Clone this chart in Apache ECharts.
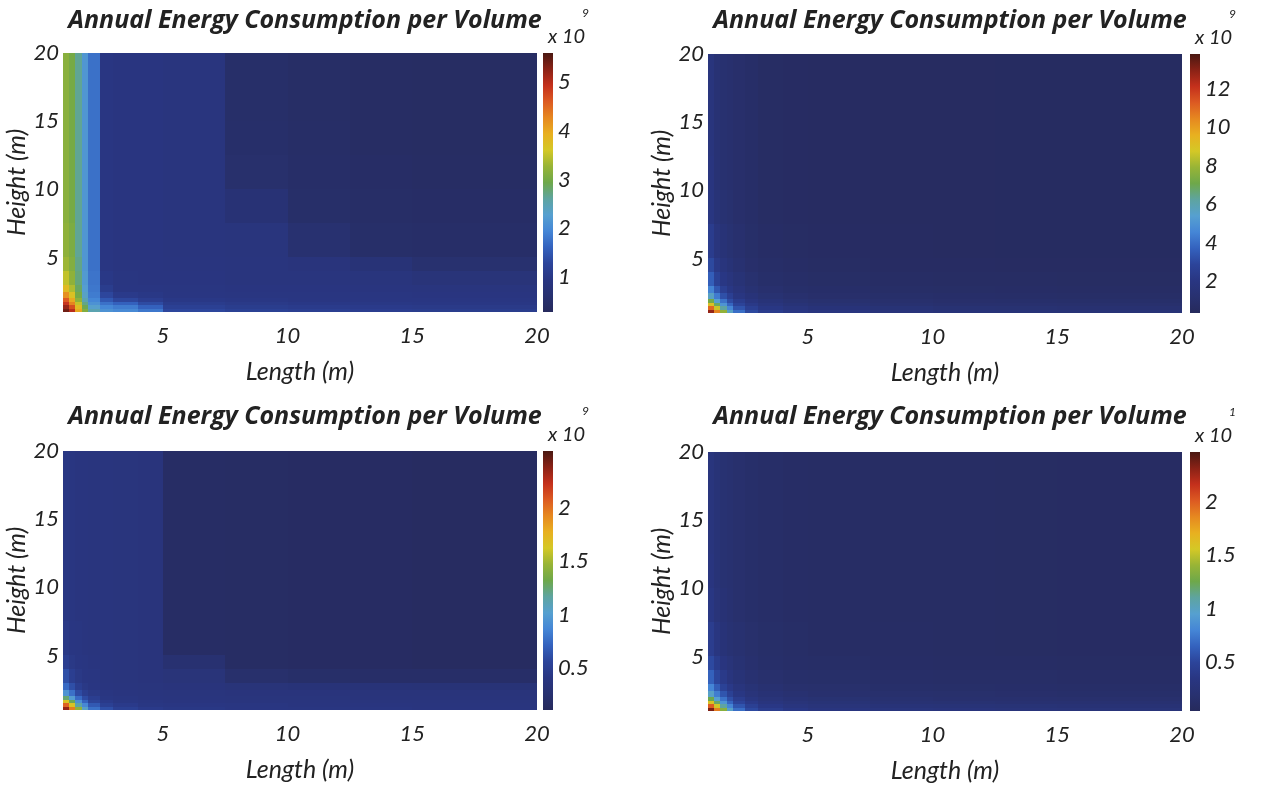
<!DOCTYPE html>
<html><head><meta charset="utf-8">
<script src="https://cdn.jsdelivr.net/npm/echarts@6/dist/echarts.min.js"></script>
<style>html,body{margin:0;padding:0;background:#fff}#c{width:1270px;height:786px}</style>
</head><body><div id="c"></div>
<script>
// ---------- DATA ----------
const titleText = 'Annual Energy Consumption per Volume';
const xName = 'Length (m)';
const yName = 'Height (m)';
const lengthEdges = [1, 1.25, 1.5, 1.75, 2, 2.5, 3, 4, 5, 7.5, 10, 12.5, 15, 20];
const heightEdges = [1, 1.25, 1.5, 1.75, 2, 2.5, 3, 4, 5, 7.5, 10, 12.5, 15, 20];
const xTicks = [5, 10, 15, 20];
const yTicks = [5, 10, 15, 20];

// each inner array = one Length cell column, values from lowest Height cell upward (x 10^exp)
const energyP1 = [
  [5.4, 5.2, 4.9, 4.6, 4.2, 3.8, 3.5, 3.3, 3.2, 3.15, 3.15, 3.15, 3.15],
  [5.0, 4.7, 4.3, 4.0, 3.7, 3.4, 3.2, 3.1, 3.05, 3.0, 3.0, 3.0, 3.0],
  [4.0, 3.8, 3.5, 3.2, 3.0, 2.85, 2.75, 2.7, 2.65, 2.65, 2.65, 2.65, 2.65],
  [3.1, 2.9, 2.7, 2.5, 2.35, 2.25, 2.2, 2.15, 2.15, 2.15, 2.15, 2.15, 2.15],
  [2.5, 2.3, 2.1, 1.95, 1.85, 1.8, 1.78, 1.75, 1.75, 1.75, 1.75, 1.75, 1.75],
  [2.1, 1.95, 1.75, 1.5, 1.3, 1.1, 1.0, 0.95, 0.95, 0.95, 0.95, 0.95, 0.95],
  [2.0, 1.85, 1.6, 1.3, 1.05, 0.95, 0.92, 0.91, 0.91, 0.91, 0.91, 0.91, 0.91],
  [1.8, 1.6, 1.35, 1.12, 1.0, 0.94, 0.91, 0.9, 0.9, 0.9, 0.9, 0.9, 0.9],
  [1.3, 1.18, 1.08, 1.0, 0.95, 0.92, 0.9, 0.89, 0.88, 0.88, 0.88, 0.88, 0.88],
  [1.2, 1.1, 1.03, 0.97, 0.93, 0.9, 0.88, 0.87, 0.85, 0.7, 0.55, 0.52, 0.5],
  [1.15, 1.07, 1.0, 0.95, 0.92, 0.9, 0.88, 0.84, 0.62, 0.5, 0.48, 0.46, 0.45],
  [1.12, 1.05, 0.99, 0.95, 0.92, 0.89, 0.86, 0.75, 0.5, 0.46, 0.44, 0.42, 0.42],
  [1.1, 1.03, 0.97, 0.94, 0.91, 0.88, 0.78, 0.6, 0.48, 0.44, 0.42, 0.4, 0.4]
];
const energyP2 = [
  [12.8, 11.0, 9.0, 7.2, 5.6, 4.5, 3.6, 3.0, 2.4, 2.0, 1.9, 1.8, 1.8],
  [10.5, 8.6, 6.8, 5.4, 4.3, 3.4, 2.7, 2.2, 1.8, 1.5, 1.4, 1.4, 1.4],
  [7.8, 6.2, 5.0, 4.1, 3.2, 2.6, 2.1, 1.8, 1.5, 1.3, 1.2, 1.2, 1.2],
  [5.6, 4.6, 3.8, 3.1, 2.6, 2.1, 1.8, 1.5, 1.3, 1.15, 1.1, 1.1, 1.1],
  [4.0, 3.3, 2.8, 2.4, 2.0, 1.7, 1.45, 1.25, 1.1, 1.0, 1.0, 1.0, 1.0],
  [3.0, 2.6, 2.2, 1.9, 1.6, 1.35, 1.15, 1.0, 0.9, 0.85, 0.85, 0.85, 0.85],
  [2.4, 2.1, 1.8, 1.55, 1.3, 1.1, 0.95, 0.85, 0.75, 0.7, 0.7, 0.7, 0.7],
  [2.1, 1.8, 1.5, 1.3, 1.1, 0.95, 0.85, 0.75, 0.68, 0.65, 0.65, 0.65, 0.65],
  [1.9, 1.6, 1.35, 1.15, 1.0, 0.88, 0.78, 0.7, 0.64, 0.6, 0.6, 0.6, 0.6],
  [1.7, 1.45, 1.2, 1.05, 0.92, 0.82, 0.72, 0.65, 0.6, 0.58, 0.58, 0.58, 0.58],
  [1.6, 1.35, 1.12, 1.0, 0.88, 0.78, 0.7, 0.63, 0.57, 0.57, 0.57, 0.57, 0.57],
  [1.55, 1.3, 1.1, 0.97, 0.85, 0.76, 0.68, 0.62, 0.56, 0.56, 0.56, 0.56, 0.56],
  [1.5, 1.25, 1.05, 0.95, 0.83, 0.74, 0.66, 0.6, 0.55, 0.55, 0.55, 0.55, 0.55]
];
const energyP3 = [
  [2.35, 2.05, 1.65, 1.25, 0.95, 0.75, 0.62, 0.5, 0.44, 0.42, 0.42, 0.42, 0.42],
  [1.95, 1.65, 1.3, 1.0, 0.78, 0.62, 0.5, 0.44, 0.41, 0.4, 0.4, 0.4, 0.4],
  [1.45, 1.15, 0.92, 0.75, 0.6, 0.5, 0.44, 0.41, 0.4, 0.39, 0.39, 0.39, 0.39],
  [1.05, 0.88, 0.72, 0.6, 0.5, 0.44, 0.41, 0.4, 0.39, 0.39, 0.39, 0.39, 0.39],
  [0.78, 0.67, 0.56, 0.5, 0.44, 0.41, 0.4, 0.39, 0.38, 0.38, 0.38, 0.38, 0.38],
  [0.62, 0.52, 0.46, 0.42, 0.4, 0.39, 0.38, 0.38, 0.38, 0.38, 0.38, 0.38, 0.38],
  [0.52, 0.46, 0.42, 0.4, 0.39, 0.38, 0.37, 0.37, 0.37, 0.37, 0.37, 0.37, 0.37],
  [0.46, 0.42, 0.4, 0.39, 0.38, 0.37, 0.36, 0.36, 0.36, 0.36, 0.36, 0.36, 0.36],
  [0.43, 0.41, 0.39, 0.38, 0.37, 0.36, 0.34, 0.27, 0.18, 0.18, 0.18, 0.18, 0.18],
  [0.41, 0.4, 0.38, 0.37, 0.36, 0.34, 0.23, 0.17, 0.17, 0.17, 0.17, 0.17, 0.17],
  [0.4, 0.39, 0.38, 0.37, 0.36, 0.33, 0.21, 0.16, 0.16, 0.16, 0.16, 0.16, 0.16],
  [0.4, 0.39, 0.37, 0.36, 0.35, 0.33, 0.2, 0.16, 0.16, 0.16, 0.16, 0.16, 0.16],
  [0.39, 0.38, 0.37, 0.36, 0.35, 0.32, 0.2, 0.15, 0.15, 0.15, 0.15, 0.15, 0.15]
];
const energyP4 = [
  [2.35, 2.0, 1.6, 1.25, 0.98, 0.8, 0.64, 0.52, 0.42, 0.35, 0.32, 0.3, 0.3],
  [1.9, 1.55, 1.2, 0.95, 0.76, 0.62, 0.5, 0.41, 0.33, 0.27, 0.25, 0.25, 0.25],
  [1.35, 1.1, 0.88, 0.72, 0.58, 0.47, 0.39, 0.32, 0.26, 0.23, 0.21, 0.21, 0.21],
  [0.98, 0.8, 0.66, 0.55, 0.46, 0.38, 0.31, 0.27, 0.22, 0.2, 0.19, 0.19, 0.19],
  [0.7, 0.58, 0.49, 0.42, 0.35, 0.3, 0.25, 0.22, 0.19, 0.17, 0.17, 0.17, 0.17],
  [0.52, 0.45, 0.38, 0.33, 0.28, 0.24, 0.2, 0.18, 0.16, 0.15, 0.15, 0.15, 0.15],
  [0.42, 0.36, 0.31, 0.27, 0.23, 0.2, 0.17, 0.15, 0.14, 0.13, 0.13, 0.13, 0.13],
  [0.36, 0.31, 0.27, 0.23, 0.2, 0.17, 0.15, 0.13, 0.12, 0.115, 0.115, 0.115, 0.115],
  [0.32, 0.28, 0.24, 0.21, 0.18, 0.16, 0.14, 0.12, 0.11, 0.105, 0.105, 0.105, 0.105],
  [0.3, 0.26, 0.22, 0.19, 0.17, 0.15, 0.13, 0.115, 0.105, 0.1, 0.1, 0.1, 0.1],
  [0.29, 0.25, 0.21, 0.18, 0.16, 0.14, 0.125, 0.11, 0.1, 0.1, 0.1, 0.1, 0.1],
  [0.28, 0.24, 0.2, 0.175, 0.155, 0.135, 0.12, 0.105, 0.095, 0.095, 0.095, 0.095, 0.095],
  [0.27, 0.23, 0.2, 0.17, 0.15, 0.13, 0.115, 0.1, 0.09, 0.09, 0.09, 0.09, 0.09]
];
const colorRange1 = [0.28, 5.6];
const colorRange2 = [0.35, 13.8];
const colorRange3 = [0.11, 2.53];
const colorRange4 = [0.04, 2.47];
const cbTicks1 = [1, 2, 3, 4, 5];
const cbTicks2 = [2, 4, 6, 8, 10, 12];
const cbTicks3 = [0.5, 1, 1.5, 2];
const cbTicks4 = [0.5, 1, 1.5, 2];
const exponents = ['9', '9', '9', '1'];

// ---------- STYLE / LAYOUT ----------
const jet = ['#262a5c','#283170','#293682','#2c449a','#3462be','#4586d6','#56a0d0','#5ea4a0',
  '#6ea84a','#98b436','#d4c826','#e8b020','#e68820','#dc5a22','#c4301c','#8a2216','#4a1812'];
const panels = [
  {left: 63,  top: 53,  energy: energyP1, range: colorRange1, ticks: cbTicks1, cbLeft: 543,  titleX: 300, titleTop: 3},
  {left: 708, top: 54,  energy: energyP2, range: colorRange2, ticks: cbTicks2, cbLeft: 1190, titleX: 945, titleTop: 3},
  {left: 63,  top: 451, energy: energyP3, range: colorRange3, ticks: cbTicks3, cbLeft: 543,  titleX: 300, titleTop: 399},
  {left: 708, top: 452, energy: energyP4, range: colorRange4, ticks: cbTicks4, cbLeft: 1190, titleX: 945, titleTop: 399}
];
const PW = 474, PH = 259, CBW = 10;
const labelFont = {fontFamily: 'Lato', fontStyle: 'italic', fontSize: 22, color: '#222'};
const nameFont = {fontFamily: 'Lato', fontStyle: 'italic', fontSize: 25, color: '#222'};

const grid = [], xAxis = [], yAxis = [], series = [], visualMap = [], title = [], graphic = [];
panels.forEach((p, i) => {
  grid.push({left: p.left, top: p.top, width: PW, height: PH});
  grid.push({left: p.cbLeft, top: p.top, width: CBW, height: PH});
  const g = i * 2, gc = i * 2 + 1;
  xAxis.push({type: 'value', gridIndex: g, min: 1, max: 20,
    axisLine: {show: false}, axisTick: {show: false, customValues: xTicks}, splitLine: {show: false},
    axisLabel: Object.assign({customValues: xTicks, margin: 13}, labelFont),
    name: xName, nameLocation: 'middle', nameGap: 47, nameTextStyle: nameFont});
  yAxis.push({type: 'value', gridIndex: g, min: 1, max: 20,
    axisLine: {show: false}, axisTick: {show: false, customValues: yTicks}, splitLine: {show: false},
    axisLabel: Object.assign({customValues: yTicks, margin: 4}, labelFont),
    name: yName, nameLocation: 'middle', nameGap: 34, nameRotate: 90, nameMoveOverlap: false,
    nameTextStyle: nameFont});
  xAxis.push({type: 'value', gridIndex: gc, min: 0, max: 1, show: false});
  yAxis.push({type: 'value', gridIndex: gc, min: p.range[0], max: p.range[1], position: 'right',
    axisLine: {show: false}, axisTick: {show: false, customValues: p.ticks}, splitLine: {show: false},
    axisLabel: Object.assign({customValues: p.ticks, margin: 5}, labelFont)});

  const data = [];
  p.energy.forEach((col, c) => {
    col.forEach((v, r) => {
      data.push([lengthEdges[c], lengthEdges[c + 1], heightEdges[r], heightEdges[r + 1], v]);
    });
  });
  series.push({
    type: 'custom', xAxisIndex: g, yAxisIndex: g, data: data,
    encode: {x: [0, 1], y: [2, 3]},
    renderItem: function (params, api) {
      const a = api.coord([api.value(0), api.value(3)]);
      const b = api.coord([api.value(1), api.value(2)]);
      const x0 = Math.round(a[0]), y0 = Math.round(a[1]);
      const x1 = Math.round(b[0]), y1 = Math.round(b[1]);
      return {type: 'rect', shape: {x: x0, y: y0, width: x1 - x0, height: y1 - y0},
        style: {fill: api.visual('color')}};
    },
    silent: true
  });
  visualMap.push({type: 'continuous', show: false, seriesIndex: series.length - 1, dimension: 4,
    min: p.range[0], max: p.range[1], inRange: {color: jet}});
  series.push({
    type: 'custom', xAxisIndex: gc, yAxisIndex: gc, data: [[0, 1, p.range[0], p.range[1]]],
    encode: {x: [0, 1], y: [2, 3]},
    renderItem: function (params, api) {
      const a = api.coord([api.value(0), api.value(3)]);
      const b = api.coord([api.value(1), api.value(2)]);
      const stops = jet.map((c, k) => ({offset: k / (jet.length - 1), color: c}));
      return {type: 'rect', shape: {x: a[0], y: a[1], width: b[0] - a[0], height: b[1] - a[1]},
        style: {fill: new echarts.graphic.LinearGradient(0, 1, 0, 0, stops)}};
    },
    silent: true
  });
  title.push({text: titleText, left: p.titleX, top: p.titleTop, textAlign: 'center',
    textStyle: {fontFamily: 'Open Sans', fontWeight: 'bold', fontStyle: 'italic', fontSize: 25, color: '#222'}});
  graphic.push({type: 'text', left: p.cbLeft + 5, top: p.top - 26,
    style: {text: 'x 10', font: 'italic 20px Lato', fill: '#222'}});
  graphic.push({type: 'text', left: p.cbLeft + 39, top: p.top - 46,
    style: {text: exponents[i], font: 'italic 12px Lato', fill: '#222'}});
});

const chart = echarts.init(document.getElementById('c'), null, {renderer: 'canvas'});
chart.setOption({backgroundColor: '#fff', animation: false, title, grid, xAxis, yAxis, visualMap, series, graphic});
</script></body></html>
